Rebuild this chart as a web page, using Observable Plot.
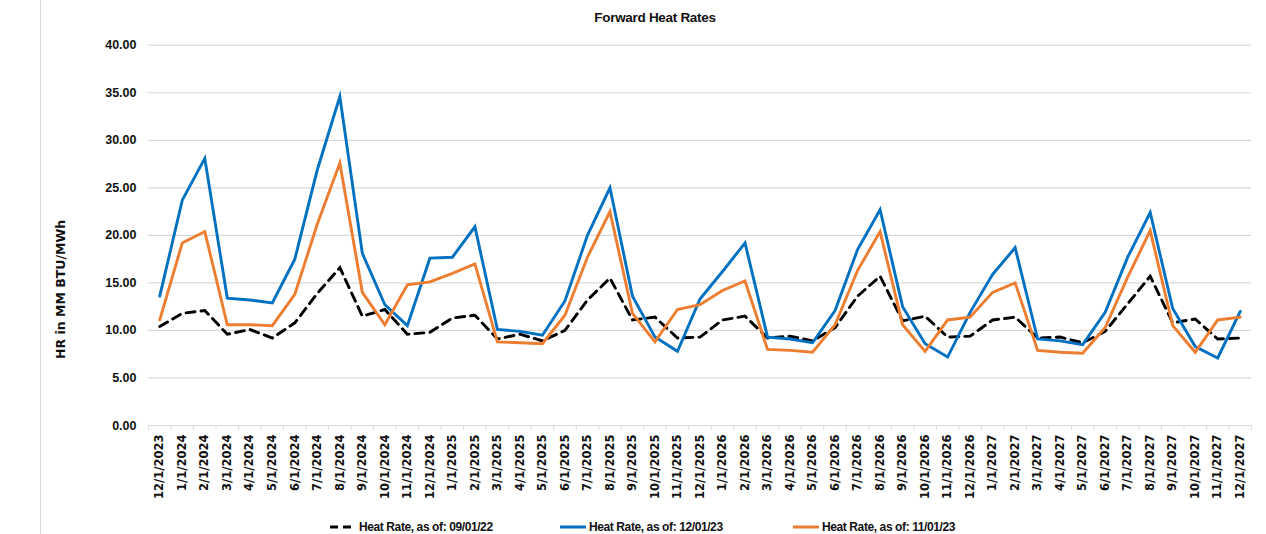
<!DOCTYPE html>
<html>
<head>
<meta charset="utf-8">
<script src="https://cdn.jsdelivr.net/npm/d3@7"></script>
<script src="https://cdn.jsdelivr.net/npm/@observablehq/plot@0.6"></script>
<style>
  html, body { margin: 0; padding: 0; background: #fff; }
  #wrap { position: relative; width: 1266px; height: 534px; overflow: hidden; }
  #border { position: absolute; left: 40px; top: 0; width: 1px; height: 534px; background: #d9d9d9; }
  #title { position: absolute; left: 0; top: 0; width: 1266px; height: 34px;
           text-align: center; padding-left: 44px; box-sizing: border-box;
           font: bold 13.5px "Liberation Sans", Arial, sans-serif; line-height: 36px; color: #111; letter-spacing: -0.3px; }
  #chart { position: absolute; left: 0; top: 34px; }
  .leg { position: absolute; top: 518px; height: 18px; display: flex; align-items: center;
         font: bold 12px "Liberation Sans", Arial, sans-serif; color: #111; letter-spacing: -0.4px; white-space: nowrap; }
  .leg svg { margin-right: 3px; }
</style>
</head>
<body>
<div id="wrap">
  <div id="border"></div>
  <div id="title"></div>
  <div id="chart"></div>
  <div id="legend"></div>
</div>
<script>
const chartTitle = "Forward Heat Rates";
const yTitle = "HR in MM BTU/MWh";

const months = ["12/1/2023","1/1/2024","2/1/2024","3/1/2024","4/1/2024","5/1/2024","6/1/2024","7/1/2024","8/1/2024","9/1/2024","10/1/2024","11/1/2024","12/1/2024",
  "1/1/2025","2/1/2025","3/1/2025","4/1/2025","5/1/2025","6/1/2025","7/1/2025","8/1/2025","9/1/2025","10/1/2025","11/1/2025","12/1/2025",
  "1/1/2026","2/1/2026","3/1/2026","4/1/2026","5/1/2026","6/1/2026","7/1/2026","8/1/2026","9/1/2026","10/1/2026","11/1/2026","12/1/2026",
  "1/1/2027","2/1/2027","3/1/2027","4/1/2027","5/1/2027","6/1/2027","7/1/2027","8/1/2027","9/1/2027","10/1/2027","11/1/2027","12/1/2027"];

const seriesNames = ["Heat Rate, as of: 09/01/22", "Heat Rate, as of: 12/01/23", "Heat Rate, as of: 11/01/23"];

const hr090122 = [10.4, 11.8, 12.1, 9.6, 10.1, 9.2, 10.8, 13.9, 16.6, 11.5, 12.2, 9.6, 9.8, 11.3, 11.6, 9.1, 9.6, 8.9,
  10.0, 13.2, 15.5, 11.1, 11.4, 9.2, 9.3, 11.1, 11.5, 9.2, 9.4, 8.9, 10.3, 13.6, 15.7, 11.0,
  11.5, 9.3, 9.4, 11.1, 11.4, 9.2, 9.3, 8.7, 9.9, 12.8, 15.7, 10.8, 11.2, 9.1, 9.2];

const hr120123 = [13.6, 23.7, 28.1, 13.4, 13.2, 12.9, 17.5, 26.9, 34.6, 18.1, 12.7, 10.5, 17.6, 17.7, 20.9, 10.1, 9.9, 9.5,
  13.1, 20.0, 25.0, 13.6, 9.3, 7.8, 13.3, 16.2, 19.2, 9.3, 9.1, 8.7, 12.1, 18.5, 22.7, 12.5,
  8.6, 7.2, 11.9, 15.9, 18.7, 9.1, 8.9, 8.5, 11.9, 17.7, 22.4, 12.3, 8.3, 7.1, 12.0];

const hr110123 = [11.1, 19.2, 20.4, 10.6, 10.6, 10.5, 13.8, 21.2, 27.6, 14.0, 10.6, 14.8, 15.1, 16.0, 17.0, 8.8, 8.7, 8.6,
  11.6, 17.7, 22.5, 11.8, 8.8, 12.2, 12.7, 14.2, 15.2, 8.0, 7.9, 7.7, 10.6, 16.3, 20.4, 10.6,
  7.8, 11.1, 11.4, 14.0, 15.0, 7.9, 7.7, 7.6, 10.3, 15.6, 20.5, 10.5, 7.7, 11.1, 11.4];

const yTicks = [0, 5, 10, 15, 20, 25, 30, 35, 40];

const colors = ["#000000", "#0070C0", "#ED7D31"];
const dashes = ["9,6", null, null];

const seriesValues = [hr090122, hr120123, hr110123];
const rows = [];
seriesValues.forEach((vals, s) => vals.forEach((v, i) => rows.push({series: seriesNames[s], i, month: months[i], value: v})));

const idx = d3.range(months.length);
const bounds = d3.range(months.length + 1).map(i => i - 0.5);

document.getElementById("title").textContent = chartTitle;

const plot = Plot.plot({
  width: 1266,
  height: 474,
  marginTop: 10.7,
  marginBottom: 83,
  marginLeft: 148,
  marginRight: 15,
  style: {fontFamily: "'Liberation Sans', Arial, sans-serif", color: "#111", overflow: "visible"},
  x: {domain: [-0.5, months.length - 0.5]},
  y: {domain: [0, 40]},
  marks: [
    Plot.gridY(yTicks, {stroke: "#d9d9d9", strokeOpacity: 1, strokeWidth: 1.2}),
    Plot.axisY({ticks: yTicks, tickSize: 0, tickPadding: 12, tickFormat: d => d.toFixed(2),
      fontSize: 12.5, fontWeight: "bold", label: null}),
    Plot.axisX({ticks: idx, tickSize: 0, tickPadding: 9, tickRotate: -90, tickFormat: i => months[i],
      fontSize: 11.5, fontWeight: "bold", fontFamily: "'DejaVu Sans', sans-serif", label: null}),
    Plot.axisX({ticks: bounds, tickSize: 5, tickFormat: () => "", stroke: "#d9d9d9", strokeOpacity: 1, label: null}),
    Plot.ruleY([0], {stroke: "#d9d9d9", strokeWidth: 1.2}),
    Plot.text([yTitle], {frameAnchor: "left", textAnchor: "middle", dx: -88, dy: 54, rotate: -90, fontSize: 12.5,
      fontWeight: "bold", fontFamily: "'DejaVu Sans', sans-serif", fill: "#111"}),
    ...seriesNames.map((name, s) => Plot.line(rows.filter(d => d.series === name), {
      x: "i", y: "value", stroke: colors[s], strokeWidth: 2.9,
      strokeDasharray: dashes[s], strokeLinejoin: "miter", strokeMiterlimit: 10
    }))
  ]
});
document.getElementById("chart").appendChild(plot);

// Legend
const legendLeft = [330, 560, 793];
const legend = document.getElementById("legend");
seriesNames.forEach((name, s) => {
  const item = document.createElement("div");
  item.className = "leg";
  item.style.left = legendLeft[s] + "px";
  const sw = d3.create("svg").attr("width", 26).attr("height", 10);
  sw.append("line").attr("x1", 0).attr("x2", 26).attr("y1", 5).attr("y2", 5)
    .attr("stroke", colors[s]).attr("stroke-width", 3)
    .attr("stroke-dasharray", dashes[s] ? "8,5" : null);
  item.appendChild(sw.node());
  const t = document.createElement("span");
  t.textContent = name;
  item.appendChild(t);
  legend.appendChild(item);
});
</script>
</body>
</html>
